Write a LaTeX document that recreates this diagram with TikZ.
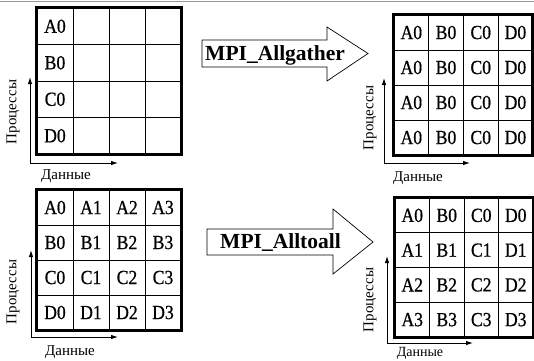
\documentclass[tikz,border=0pt]{standalone}
\usepackage{fontspec}
\setmainfont{Liberation Serif}
\newfontfamily\cellfont[FakeStretch=0.88,FakeBold=0.6]{Liberation Serif}
\usetikzlibrary{arrows.meta}
\tikzset{
  cellst/.style={draw, line width=0.8pt, inner sep=0pt, font=\cellfont\fontsize{20}{22}\selectfont},
  outerst/.style={line width=3.6pt},
  axisst/.style={line width=0.9pt, -{Latex[length=7pt,width=4.5pt]}},
  axlab/.style={font=\fontsize{15}{17}\selectfont, inner sep=0pt},
  bigarrow/.style={draw, line width=0.7pt, fill=white},
  oplab/.style={font=\bfseries\fontsize{21.5}{24}\selectfont, inner sep=0pt, anchor=base west}
}
\newcommand{\cellgrid}[6]{%
  \foreach \row [count=\i] in {#6} {
    \foreach \t [count=\j] in \row {
      \node[cellst, minimum width=#4pt, minimum height=#5pt] (#1-\i-\j)
        at ({#2+#4*(\j-0.5)}, {#3+#5*(\i-0.5)}) {\t};
    }
  }
  \draw[outerst] (#1-1-1.north west) rectangle (#1-4-4.south east);
}
\begin{document}
\begin{tikzpicture}[x=1pt, y=-1pt]
\useasboundingbox (0,0) rectangle (534,360);
% top rule
\draw[line width=1.3pt, black!40] (0,1.5) -- (534,1.5);

% ---------- top left ----------
\cellgrid{tl}{37}{8}{36}{36.5}{{A0,{},{},{}},{B0,{},{},{}},{C0,{},{},{}},{D0,{},{},{}}}
\coordinate (tlo) at (30,163);
\coordinate (tlu) at (30,77);
\coordinate (tlr) at (118,163);
\draw[axisst] (tlo) -- (tlu);
\draw[axisst] (tlo) -- (tlr);
\node[axlab, rotate=90] (tlp) at (13,112) {Процессы};
\node[axlab] (tld) at (66,176) {Данные};

% ---------- top right ----------
\cellgrid{tr}{394}{15}{34.7}{35}{{A0,B0,C0,D0},{A0,B0,C0,D0},{A0,B0,C0,D0},{A0,B0,C0,D0}}
\coordinate (tro) at (384,163);
\coordinate (tru) at (384,78);
\coordinate (trr) at (470,163);
\draw[axisst] (tro) -- (tru);
\draw[axisst] (tro) -- (trr);
\node[axlab, rotate=90] (trp) at (370,118) {Процессы};
\node[axlab] (trd) at (418,178) {Данные};

% ---------- bottom left ----------
\cellgrid{bl}{37}{190}{36}{35}{{A0,A1,A2,A3},{B0,B1,B2,B3},{C0,C1,C2,C3},{D0,D1,D2,D3}}
\coordinate (blo) at (31,337);
\coordinate (blu) at (31,250);
\coordinate (blr) at (118,337);
\draw[axisst] (blo) -- (blu);
\draw[axisst] (blo) -- (blr);
\node[axlab, rotate=90] (blp) at (13,292) {Процессы};
\node[axlab] (bld) at (70,352) {Данные};

% ---------- bottom right ----------
\cellgrid{br}{395}{198}{34.5}{34.75}{{A0,B0,C0,D0},{A1,B1,C1,D1},{A2,B2,C2,D2},{A3,B3,C3,D3}}
\coordinate (bro) at (387,343);
\coordinate (bru) at (387,256);
\coordinate (brr) at (473,343);
\draw[axisst] (bro) -- (bru);
\draw[axisst] (bro) -- (brr);
\node[axlab, rotate=90] (brp) at (370,300) {Процессы};
\node[axlab, font=\fontsize{14}{16}\selectfont] (brd) at (420,353) {Данные};

% ---------- operation arrows ----------
\draw[bigarrow] (202,40) -- (327,40) -- (327,27) -- (368,53.5) -- (327,81) -- (327,67) -- (202,67) -- cycle;
\node[oplab] (ag) at (205,60) {MPI\_Allgather};

\draw[bigarrow] (207,229) -- (333,229) -- (333,209) -- (373,242) -- (333,274) -- (333,255) -- (207,255) -- cycle;
\node[oplab] (aa) at (220,248) {MPI\_Alltoall};
\end{tikzpicture}
\end{document}
